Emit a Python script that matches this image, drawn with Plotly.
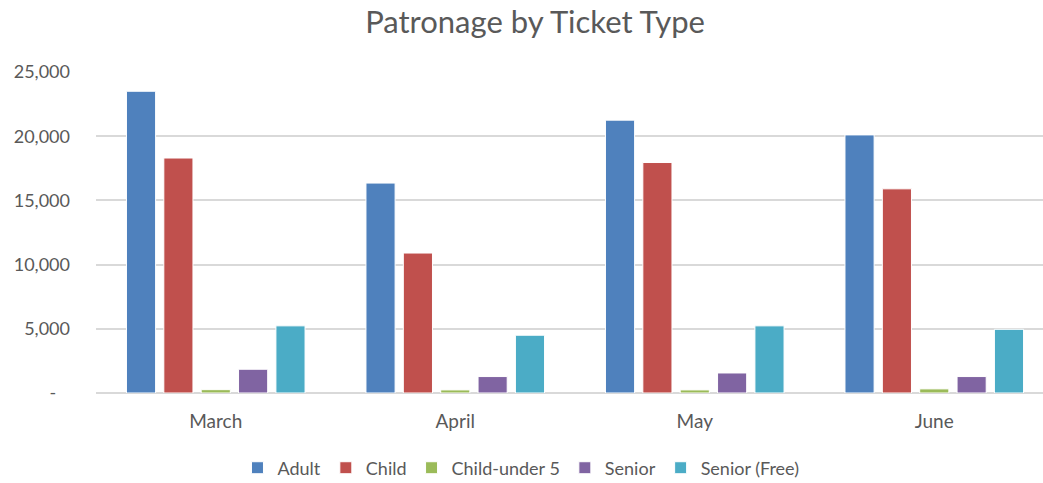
import plotly.graph_objects as go

months = ["March", "April", "May", "June"]
adult = [23500, 16350, 21250, 20100]
child = [18300, 10900, 17950, 15900]
child_u5 = [260, 240, 240, 320]
senior = [1850, 1280, 1560, 1280]
senior_free = [5230, 4500, 5230, 4960]

series = [
    ("Adult", adult, "#4f81bd"),
    ("Child", child, "#c0504d"),
    ("Child-under 5", child_u5, "#9bbb59"),
    ("Senior", senior, "#8064a2"),
    ("Senior (Free)", senior_free, "#4bacc6"),
]

y_ticks = [0, 5000, 10000, 15000, 20000, 25000]
y_ticktext = ["-\u00a0\u00a0\u00a0", "5,000", "10,000", "15,000", "20,000", "25,000"]

FONT = "Lato, Calibri, sans-serif"
GREY = "#595959"

fig = go.Figure()
for name, vals, col in series:
    fig.add_trace(go.Bar(
        x=months, y=vals, name=name,
        marker=dict(color=col, line=dict(color="white", width=1)),
    ))

fig.update_layout(
    width=1043, height=483,
    margin=dict(l=96, r=0, t=72, b=90, autoexpand=False),
    paper_bgcolor="white", plot_bgcolor="white",
    barmode="group", bargap=0.22, bargroupgap=0.22,
    font=dict(family=FONT, color=GREY, size=18),
    title=dict(text="Patronage by Ticket Type", x=0.513, xanchor="center",
               y=0.955, yanchor="middle",
               font=dict(family=FONT, size=31, color=GREY)),
    legend=dict(orientation="h", xref="container", yref="container",
                x=0.4995, xanchor="center", y=0.031, yanchor="middle",
                font=dict(size=18, color=GREY), itemwidth=30, traceorder="normal"),
    xaxis=dict(range=[-0.5, 3.454], showgrid=False, showline=False, ticks="",
               ticklabelstandoff=15, tickfont=dict(size=19, color=GREY)),
    yaxis=dict(range=[0, 25000], tickvals=y_ticks, ticktext=y_ticktext,
               showgrid=True, gridcolor="#d9d9d9", gridwidth=1.5,
               zeroline=True, zerolinecolor="#d9d9d9", zerolinewidth=1.5,
               showline=False, ticks="", ticklabelstandoff=25,
               tickfont=dict(size=18, color=GREY)),
)

fig.write_html("out.html")
